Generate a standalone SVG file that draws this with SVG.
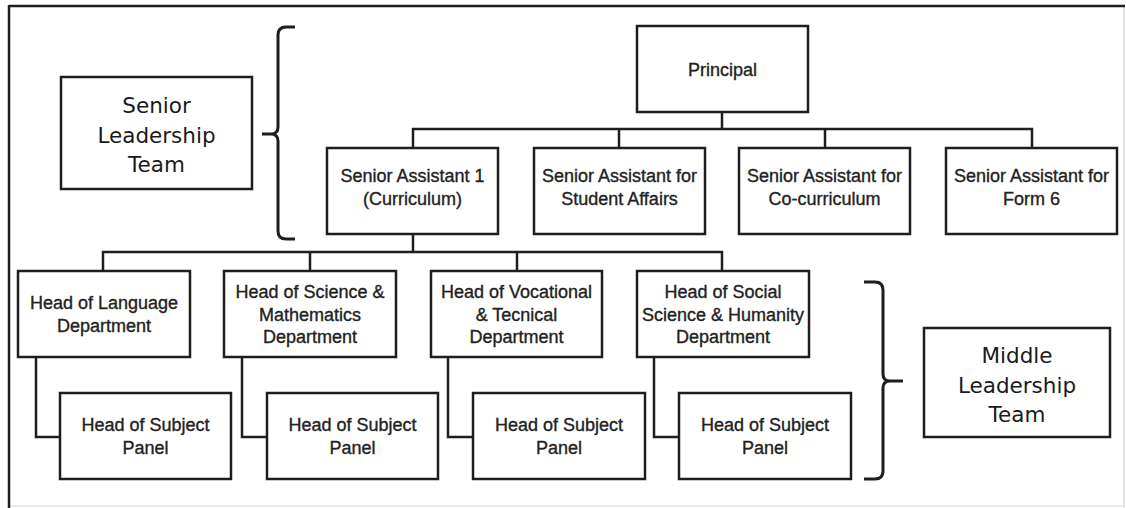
<svg xmlns="http://www.w3.org/2000/svg" width="1126" height="508" viewBox="0 0 1126 508">
  <style>
    .box { fill: #ffffff; stroke: #1e1e1e; stroke-width: 2.5; }
    .wire { fill: none; stroke: #1e1e1e; stroke-width: 2.5; stroke-linejoin: miter; }
    .brace { fill: none; stroke: #1e1e1e; stroke-width: 3; stroke-linecap: butt; }
    .lbl { font-family: "Liberation Sans", Arial, sans-serif; font-size: 18px; fill: #222222; stroke: #222222; stroke-width: 0.35; text-anchor: middle; }
    .team { font-family: "DejaVu Sans", Verdana, sans-serif; font-size: 21.5px; fill: #1a1a1a; text-anchor: middle; }
  </style>

  <!-- page -->
  <rect x="0" y="0" width="1126" height="508" fill="#ffffff"/>
  <g id="frame">
    <line x1="1124" y1="6" x2="1124" y2="508" stroke="#dcdcdc" stroke-width="1.5"/>
    <line x1="9" y1="506" x2="1124" y2="506" stroke="#e2e2e2" stroke-width="1.5"/>
    <line x1="9" y1="6" x2="1125" y2="6" stroke="#1e1e1e" stroke-width="2.5"/>
    <line x1="9" y1="5" x2="9" y2="508" stroke="#1e1e1e" stroke-width="2.5"/>
  </g>

  <!-- connectors -->
  <g id="connectors">
    <!-- Principal to senior assistants -->
    <path class="wire" d="M722,112 V129 M413,148 V129 H1032 V148 M619,129 V148 M825,129 V148"/>
    <!-- Senior Assistant 1 to departments -->
    <path class="wire" d="M413,234 V252 M103,271 V252 H722 V271 M310,252 V271 M517,252 V271"/>
    <!-- departments to subject panels -->
    <path class="wire" d="M36,357 V437 H60"/>
    <path class="wire" d="M242,357 V437 H267"/>
    <path class="wire" d="M448,357 V437 H473"/>
    <path class="wire" d="M654,357 V437 H679"/>
  </g>

  <!-- braces -->
  <g id="brace-senior">
    <path class="brace" d="M295,27 H286 Q278,27 278,35 V127 Q278,134 271,134 H262 M271,134 Q278,134 278,141 V231 Q278,239 286,239 H295"/>
  </g>
  <g id="brace-middle">
    <path class="brace" d="M864,282 H875 Q883,282 883,290 V374 Q883,381 890,381 H903 M890,381 Q883,381 883,388 V471 Q883,479 875,479 H864"/>
  </g>

  <!-- team labels -->
  <g id="senior-leadership-team">
    <rect class="box" x="61" y="77" width="191" height="112"/>
    <text class="team" x="156.5" y="113">Senior</text>
    <text class="team" x="156.5" y="142.5">Leadership</text>
    <text class="team" x="156.5" y="172">Team</text>
  </g>
  <g id="middle-leadership-team">
    <rect class="box" x="924" y="328" width="186" height="109"/>
    <text class="team" x="1017" y="363">Middle</text>
    <text class="team" x="1017" y="392.5">Leadership</text>
    <text class="team" x="1017" y="422">Team</text>
  </g>

  <!-- top level -->
  <g id="principal">
    <rect class="box" x="637" y="26" width="171" height="86"/>
    <text class="lbl" x="722.5" y="75.5">Principal</text>
  </g>

  <!-- senior assistants -->
  <g id="sa-curriculum">
    <rect class="box" x="327" y="148" width="171" height="86"/>
    <text class="lbl" x="412.5" y="182">Senior Assistant 1</text>
    <text class="lbl" x="412.5" y="205">(Curriculum)</text>
  </g>
  <g id="sa-student-affairs">
    <rect class="box" x="534" y="148" width="171" height="86"/>
    <text class="lbl" x="619.5" y="182">Senior Assistant for</text>
    <text class="lbl" x="619.5" y="205">Student Affairs</text>
  </g>
  <g id="sa-co-curriculum">
    <rect class="box" x="739" y="148" width="171" height="86"/>
    <text class="lbl" x="824.5" y="182">Senior Assistant for</text>
    <text class="lbl" x="824.5" y="205">Co-curriculum</text>
  </g>
  <g id="sa-form6">
    <rect class="box" x="946" y="148" width="171" height="86"/>
    <text class="lbl" x="1031.5" y="182">Senior Assistant for</text>
    <text class="lbl" x="1031.5" y="205">Form 6</text>
  </g>

  <!-- departments -->
  <g id="dept-language">
    <rect class="box" x="18" y="271" width="172" height="86"/>
    <text class="lbl" x="104" y="309">Head of Language</text>
    <text class="lbl" x="104" y="331.5">Department</text>
  </g>
  <g id="dept-science-maths">
    <rect class="box" x="224" y="271" width="172" height="86"/>
    <text class="lbl" x="310" y="298">Head of Science &amp;</text>
    <text class="lbl" x="310" y="320.5">Mathematics</text>
    <text class="lbl" x="310" y="343">Department</text>
  </g>
  <g id="dept-vocational">
    <rect class="box" x="431" y="271" width="171" height="86"/>
    <text class="lbl" x="516.5" y="298">Head of Vocational</text>
    <text class="lbl" x="516.5" y="320.5">&amp; Tecnical</text>
    <text class="lbl" x="516.5" y="343">Department</text>
  </g>
  <g id="dept-social-science">
    <rect class="box" x="637" y="271" width="172" height="86"/>
    <text class="lbl" x="723" y="298">Head of Social</text>
    <text class="lbl" x="723" y="320.5">Science &amp; Humanity</text>
    <text class="lbl" x="723" y="343">Department</text>
  </g>

  <!-- subject panels -->
  <g id="panel-language">
    <rect class="box" x="60" y="393" width="171" height="86"/>
    <text class="lbl" x="145.5" y="431">Head of Subject</text>
    <text class="lbl" x="145.5" y="454">Panel</text>
  </g>
  <g id="panel-science-maths">
    <rect class="box" x="267" y="393" width="171" height="86"/>
    <text class="lbl" x="352.5" y="431">Head of Subject</text>
    <text class="lbl" x="352.5" y="454">Panel</text>
  </g>
  <g id="panel-vocational">
    <rect class="box" x="473" y="393" width="172" height="86"/>
    <text class="lbl" x="559" y="431">Head of Subject</text>
    <text class="lbl" x="559" y="454">Panel</text>
  </g>
  <g id="panel-social-science">
    <rect class="box" x="679" y="393" width="172" height="86"/>
    <text class="lbl" x="765" y="431">Head of Subject</text>
    <text class="lbl" x="765" y="454">Panel</text>
  </g>
</svg>
